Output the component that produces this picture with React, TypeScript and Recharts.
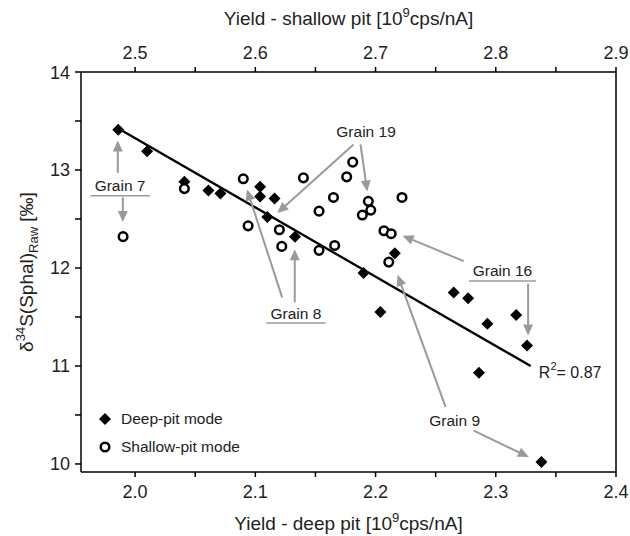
import React from 'react';
import { ComposedChart, Scatter, XAxis, YAxis, ReferenceLine, ReferenceDot, Label, Legend } from 'recharts';

// ---- data ----
const deepYield = [1.986, 2.010, 2.041, 2.061, 2.071, 2.104, 2.104, 2.116, 2.110, 2.133, 2.216, 2.190, 2.265, 2.277, 2.204, 2.293, 2.317, 2.326, 2.286, 2.338];
const deepDelta = [13.41, 13.19, 12.88, 12.79, 12.76, 12.83, 12.73, 12.71, 12.52, 12.32, 12.15, 11.95, 11.75, 11.69, 11.55, 11.43, 11.52, 11.21, 10.93, 10.02];
const shallowYield = [2.490, 2.541, 2.590, 2.594, 2.620, 2.622, 2.640, 2.653, 2.653, 2.665, 2.666, 2.681, 2.676, 2.694, 2.696, 2.689, 2.722, 2.707, 2.713, 2.711];
const shallowDelta = [12.32, 12.81, 12.91, 12.43, 12.39, 12.22, 12.92, 12.58, 12.18, 12.72, 12.23, 13.08, 12.93, 12.68, 12.59, 12.54, 12.72, 12.38, 12.35, 12.06];
const fitYield = [1.985, 2.329];
const fitDelta = [13.43, 11.0];
const rSquared = '0.87';

const deepTicks = [2.0, 2.05, 2.1, 2.15, 2.2, 2.25, 2.3, 2.35, 2.4];
const shallowTicks = [2.5, 2.55, 2.6, 2.65, 2.7, 2.75, 2.8, 2.85, 2.9];
const deltaTicks = [10, 10.5, 11, 11.5, 12, 12.5, 13, 13.5, 14];
const seriesNames = ['Deep-pit mode', 'Shallow-pit mode'];

// annotation labels (deep-axis x, delta y)
const grainLabels = [
  { text: 'Grain 7', x: 1.9875, y: 12.84, underline: true },
  { text: 'Grain 8', x: 2.1338, y: 11.54, underline: true },
  { text: 'Grain 19', x: 2.1921, y: 13.39, underline: false },
  { text: 'Grain 16', x: 2.3056, y: 11.97, underline: true },
  { text: 'Grain 9', x: 2.2658, y: 10.44, underline: false },
];
// arrows: from (x1,y1) to tip (x2,y2)
const grainArrows = [
  { x1: 1.9856, y1: 12.97, x2: 1.9856, y2: 13.30 },
  { x1: 1.9898, y1: 12.72, x2: 1.9898, y2: 12.47 },
  { x1: 2.1223, y1: 11.70, x2: 2.0931, y2: 12.80 },
  { x1: 2.1328, y1: 11.65, x2: 2.1328, y2: 12.19 },
  { x1: 2.1817, y1: 13.26, x2: 2.1183, y2: 12.56 },
  { x1: 2.1875, y1: 13.26, x2: 2.1931, y2: 12.78 },
  { x1: 2.3269, y1: 11.84, x2: 2.3269, y2: 11.31 },
  { x1: 2.2733, y1: 12.07, x2: 2.2225, y2: 12.33 },
  { x1: 2.2583, y1: 10.58, x2: 2.2183, y2: 11.93 },
  { x1: 2.2817, y1: 10.34, x2: 2.3275, y2: 10.07 },
];
const r2Pos = { x: 2.3358, y: 10.94 };

const FONT = '"Liberation Sans", Arial, Helvetica, sans-serif';
const GRAY = '#9a9a9a';
const TEXT = '#222';

const deepData = deepYield.map((x, i) => ({ x, y: deepDelta[i] }));
const shallowData = shallowYield.map((x, i) => ({ x, y: shallowDelta[i] }));

const isMajor = (v: number) => Math.abs(Math.round(v * 10) - v * 10) < 1e-6;

const Diamond = ({ cx, cy, s = 6 }: any) => (
  <polygon points={`${cx},${cy - s} ${cx + s},${cy} ${cx},${cy + s} ${cx - s},${cy}`} fill="#000" />
);
const Ring = ({ cx, cy }: any) => (
  <circle cx={cx} cy={cy} r={4.3} fill="#fff" stroke="#000" strokeWidth={2.5} />
);

const BottomTick = (p: any) => {
  const v = p.payload.value;
  if (!isMajor(v)) return null;
  return (
    <text x={p.x} y={p.y + 18} textAnchor="middle" fontSize={18} fontFamily={FONT} fill={TEXT}>
      {v.toFixed(1)}
    </text>
  );
};
const TopTick = (p: any) => {
  const v = p.payload.value;
  if (!isMajor(v)) return null;
  return (
    <text x={p.x} y={p.y - 5} textAnchor="middle" fontSize={18} fontFamily={FONT} fill={TEXT}>
      {v.toFixed(1)}
    </text>
  );
};
const LeftTick = (p: any) => {
  const v = p.payload.value;
  if (Math.abs(v - Math.round(v)) > 1e-6) return null;
  return (
    <text x={p.x - 3} y={p.y + 6.5} textAnchor="end" fontSize={18} fontFamily={FONT} fill={TEXT}>
      {String(v)}
    </text>
  );
};

const ArrowShape = (p: any) => {
  const { x1, y1, x2, y2 } = p;
  const dx = x2 - x1;
  const dy = y2 - y1;
  const len = Math.sqrt(dx * dx + dy * dy) || 1;
  const ux = dx / len;
  const uy = dy / len;
  const hl = 11;
  const hw = 5;
  const bx = x2 - ux * hl;
  const by = y2 - uy * hl;
  return (
    <g>
      <line x1={x1} y1={y1} x2={bx + ux * 2} y2={by + uy * 2} stroke={GRAY} strokeWidth={2} />
      <polygon
        points={`${x2},${y2} ${bx - uy * hw},${by + ux * hw} ${bx + uy * hw},${by - ux * hw}`}
        fill={GRAY}
      />
    </g>
  );
};

const FitLineShape = (p: any) => (
  <line x1={p.x1} y1={p.y1} x2={p.x2} y2={p.y2} stroke="#000" strokeWidth={2.3} />
);

const makeTextShape = (text: string, underline: boolean) => (p: any) => {
  const w = text.length * 7.9;
  return (
    <g>
      <text x={p.cx} y={p.cy + 5.5} textAnchor="middle" fontSize={15.5} fontFamily={FONT} fill={TEXT}>
        {text}
      </text>
      {underline ? (
        <line x1={p.cx - w / 2 - 2} y1={p.cy + 10} x2={p.cx + w / 2 + 2} y2={p.cy + 10} stroke={GRAY} strokeWidth={1.5} />
      ) : null}
    </g>
  );
};

const R2Shape = (p: any) => (
  <text x={p.cx} y={p.cy + 6} textAnchor="start" fontSize={16} fontFamily={FONT} fill={TEXT}>
    <tspan>R</tspan>
    <tspan dy={-8} fontSize={11}>2</tspan>
    <tspan dy={8}>{`= ${rSquared}`}</tspan>
  </text>
);

const LegendContent = (props: any) => {
  const payload = props.payload || [];
  return (
    <div style={{ fontFamily: FONT, fontSize: 15.5, color: TEXT }}>
      {seriesNames.map((name, i) => (
        <div key={name} style={{ display: 'flex', alignItems: 'center', height: 28 }}>
          <svg width={16} height={16} style={{ marginRight: 8 }}>
            {i === 0 ? <Diamond cx={8} cy={8} s={6} /> : <Ring cx={8} cy={8} />}
          </svg>
          <span>{payload[i] ? payload[i].value : name}</span>
        </div>
      ))}
    </div>
  );
};

const TopTitle = (p: any) => {
  const vb = p.viewBox || { x: 81, y: 0, width: 535, height: 72 };
  const cx = vb.x + vb.width / 2;
  return (
    <text x={cx} y={25} textAnchor="middle" fontSize={19} fontFamily={FONT} fill={TEXT}>
      <tspan>Yield - shallow pit [10</tspan>
      <tspan dy={-8} fontSize={13}>9</tspan>
      <tspan dy={8}>cps/nA]</tspan>
    </text>
  );
};
const BottomTitle = (p: any) => {
  const vb = p.viewBox || { x: 81, y: 472, width: 535, height: 64 };
  const cx = vb.x + vb.width / 2;
  return (
    <text x={cx} y={vb.y + 58} textAnchor="middle" fontSize={19} fontFamily={FONT} fill={TEXT}>
      <tspan>Yield - deep pit [10</tspan>
      <tspan dy={-8} fontSize={13}>9</tspan>
      <tspan dy={8}>cps/nA]</tspan>
    </text>
  );
};
const LeftTitle = (p: any) => {
  const vb = p.viewBox || { x: 0, y: 72, width: 81, height: 400 };
  const cx = vb.x + 33;
  const cy = vb.y + vb.height / 2;
  return (
    <text x={cx} y={cy} transform={`rotate(-90 ${cx} ${cy})`} textAnchor="middle" fontSize={19} fontFamily={FONT} fill={TEXT}>
      <tspan>δ</tspan>
      <tspan dy={-8} fontSize={13}>34</tspan>
      <tspan dy={8}>S(Sphal)</tspan>
      <tspan dy={5} fontSize={13}>Raw</tspan>
      <tspan dy={-5}> [‰]</tspan>
    </text>
  );
};

export default function App() {
  return (
    <div style={{ position: 'absolute', left: 0, top: 0, width: 630, height: 536, background: '#fff' }}>
      <ComposedChart width={630} height={536} margin={{ top: 0, right: 13, bottom: 0, left: 0 }}>
        <XAxis
          xAxisId="deep"
          type="number"
          dataKey="x"
          orientation="bottom"
          domain={[1.955, 2.4]}
          allowDataOverflow
          ticks={deepTicks}
          interval={0}
          height={64}
          tickSize={5}
          tickMargin={3}
          tick={<BottomTick />}
          axisLine={{ stroke: '#000', strokeWidth: 1.5 }}
          tickLine={{ stroke: '#000', strokeWidth: 1.5 }}
        >
          <Label content={<BottomTitle />} />
        </XAxis>
        <XAxis
          xAxisId="shallow"
          type="number"
          dataKey="x"
          orientation="top"
          domain={[2.455, 2.9]}
          allowDataOverflow
          ticks={shallowTicks}
          interval={0}
          height={72}
          tickSize={5}
          tickMargin={3}
          tick={<TopTick />}
          axisLine={{ stroke: '#000', strokeWidth: 1.5 }}
          tickLine={{ stroke: '#000', strokeWidth: 1.5 }}
        >
          <Label content={<TopTitle />} />
        </XAxis>
        <YAxis
          yAxisId="d"
          type="number"
          dataKey="y"
          domain={[9.918, 14]}
          allowDataOverflow
          ticks={deltaTicks}
          interval={0}
          width={81}
          tickSize={6}
          tickMargin={2}
          tick={<LeftTick />}
          axisLine={{ stroke: '#000', strokeWidth: 1.5 }}
          tickLine={{ stroke: '#000', strokeWidth: 1.5 }}
        >
          <Label content={<LeftTitle />} />
        </YAxis>
        <YAxis
          yAxisId="r"
          orientation="right"
          type="number"
          domain={[9.918, 14]}
          allowDataOverflow
          width={1}
          tick={false}
          tickLine={false}
          axisLine={{ stroke: '#000', strokeWidth: 1.5 }}
        />
        <Legend
          layout="vertical"
          align="center"
          verticalAlign="middle"
          content={<LegendContent />}
          wrapperStyle={{ left: 97, top: 405, width: 200, height: 60 }}
        />
        <ReferenceLine
          xAxisId="deep"
          yAxisId="d"
          segment={[{ x: fitYield[0], y: fitDelta[0] }, { x: fitYield[1], y: fitDelta[1] }]}
          shape={FitLineShape}
        />
        {grainArrows.map((a, i) => (
          <ReferenceLine
            key={'a' + i}
            xAxisId="deep"
            yAxisId="d"
            segment={[{ x: a.x1, y: a.y1 }, { x: a.x2, y: a.y2 }]}
            shape={ArrowShape}
          />
        ))}
        {grainLabels.map((g, i) => (
          <ReferenceDot
            key={'g' + i}
            xAxisId="deep"
            yAxisId="d"
            x={g.x}
            y={g.y}
            r={0}
            shape={makeTextShape(g.text, g.underline)}
          />
        ))}
        <ReferenceDot xAxisId="deep" yAxisId="d" x={r2Pos.x} y={r2Pos.y} r={0} shape={R2Shape} />
        <Scatter
          name={seriesNames[0]}
          data={deepData}
          xAxisId="deep"
          yAxisId="d"
          fill="#000"
          isAnimationActive={false}
          shape={(p: any) => <Diamond cx={p.cx} cy={p.cy} />}
        />
        <Scatter
          name={seriesNames[1]}
          data={shallowData}
          xAxisId="shallow"
          yAxisId="d"
          fill="#000"
          isAnimationActive={false}
          shape={(p: any) => <Ring cx={p.cx} cy={p.cy} />}
        />
      </ComposedChart>
    </div>
  );
}
